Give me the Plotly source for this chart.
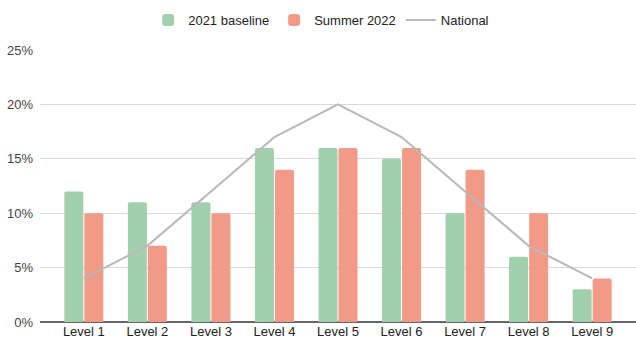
import plotly.graph_objects as go

levels = ["Level 1", "Level 2", "Level 3", "Level 4", "Level 5",
          "Level 6", "Level 7", "Level 8", "Level 9"]
baseline_2021 = [12, 11, 11, 16, 16, 15, 10, 6, 3]
summer_2022 = [10, 7, 10, 14, 16, 16, 14, 10, 4]
national = [4, 7, 12, 17, 20, 17, 12, 7, 4]
y_ticks = [0, 5, 10, 15, 20, 25]
y_tick_labels = ["0%", "5%", "10%", "15%", "20%", "25%"]

GREEN = "#a2cfae"
SALMON = "#f29a88"
GREY_LINE = "#b8b8b8"
FONT = "Liberation Sans, Arial, sans-serif"

fig = go.Figure()
fig.add_trace(go.Bar(x=levels, y=baseline_2021, name="2021 baseline",
                     marker=dict(color=GREEN, line=dict(width=0))))
fig.add_trace(go.Bar(x=levels, y=summer_2022, name="Summer 2022",
                     marker=dict(color=SALMON, line=dict(width=0))))
fig.add_trace(go.Scatter(x=levels, y=national, name="National", mode="lines",
                         line=dict(color=GREY_LINE, width=2)))

fig.update_layout(
    width=636, height=344,
    margin=dict(l=40, r=0, t=50, b=22, autoexpand=False),
    paper_bgcolor="white", plot_bgcolor="white",
    font=dict(family=FONT, size=13, color="#444444"),
    barmode="group", bargap=0.37, bargroupgap=0.05, barcornerradius=2,
    showlegend=True,
    legend=dict(orientation="h", x=0.505, xanchor="center", xref="container",
                y=0.985, yanchor="top", yref="container",
                font=dict(size=13, color="#222222"),
                itemwidth=30, traceorder="normal"),
    xaxis=dict(range=[-0.69, 8.69], showgrid=False, showline=False, zeroline=False,
               ticks="", tickfont=dict(size=13, color="#222222"), automargin=False),
    yaxis=dict(range=[0, 25], tickvals=y_ticks, ticktext=y_tick_labels,
               showgrid=True, gridcolor="#d9d9d9", gridwidth=1,
               zeroline=True, zerolinecolor="#666666", zerolinewidth=1.5,
               showline=False, ticks="", ticklabelstandoff=6,
               tickfont=dict(size=13, color="#444444"), automargin=False),
)

fig.write_html("out.html")
